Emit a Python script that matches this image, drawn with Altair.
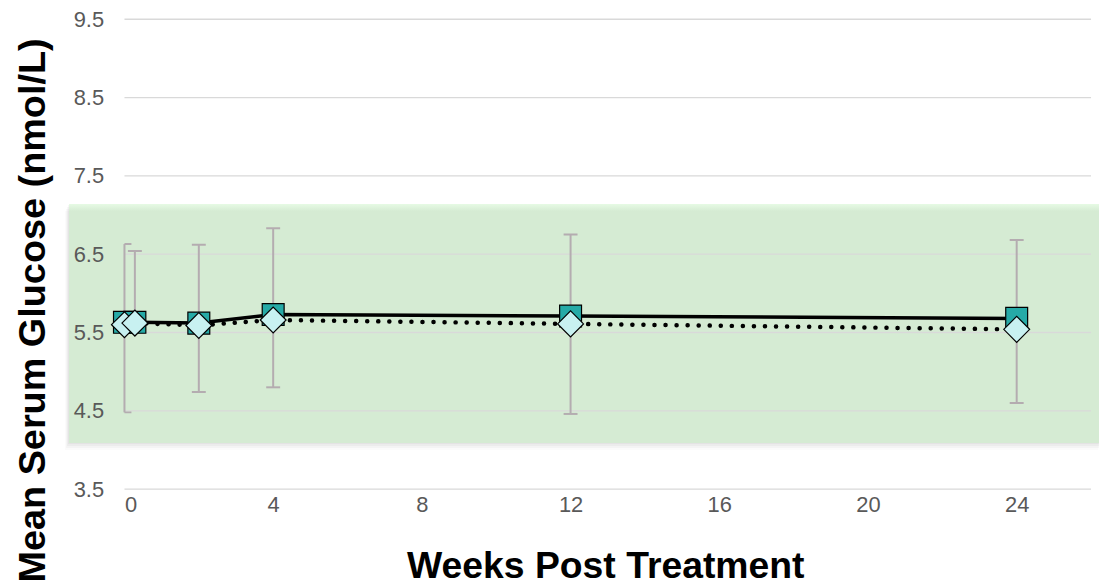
import altair as alt
import pandas as pd

# ---- data ----
weeks = [0, 0.28, 2, 4, 12, 24]
treated = [5.63, 5.63, 5.62, 5.73, 5.71, 5.68]      # teal squares, solid line
control = [5.60, 5.62, 5.59, 5.66, 5.61, 5.54]      # light diamonds, dotted line
err_low = [4.48, 5.62, 4.74, 4.80, 4.46, 4.60]
err_high = [6.63, 6.54, 6.62, 6.83, 6.75, 6.68]
y_ticks = [3.5, 4.5, 5.5, 6.5, 7.5, 8.5, 9.5]
x_ticks = [0, 4, 8, 12, 16, 20, 24]
normal_range = [4.09, 7.14]        # shaded reference band (nmol/L)
band_weeks = [-1.49, 26.3]

FONT = "Liberation Sans"
W, H = 971, 472

df = pd.DataFrame({"week": weeks, "treated": treated, "control": control,
                   "lo": err_low, "hi": err_high})
band_df = pd.DataFrame({"x0": [band_weeks[0]], "x1": [band_weeks[1]],
                        "y0": [normal_range[0]], "y1": [normal_range[1]]})
grid_df = pd.DataFrame({"v": y_ticks})

xs = alt.Scale(domain=[0, 26], nice=False, zero=False)
ys = alt.Scale(domain=[3.5, 9.5], nice=False, zero=False)

x_axis = alt.Axis(values=x_ticks, title="Weeks Post Treatment", grid=False, domain=False,
                  ticks=False, tickSize=0, labelPadding=5, labelFontSize=22,
                  labelColor="#595959", labelFont=FONT, titleFont=FONT, titleFontSize=37.5,
                  titleFontWeight="bold", titleColor="#000000", titleX=483, titleY=89,
                  titleAlign="center", titleBaseline="alphabetic", zindex=1)
y_axis = alt.Axis(values=y_ticks, format=".1f", title="Mean Serum Glucose (nmol/L)",
                  grid=False, domain=False, ticks=False, tickSize=0, labelPadding=21,
                  labelFontSize=22, labelColor="#595959", labelFont=FONT, titleFont=FONT,
                  titleFontSize=38, titleFontWeight="bold", titleColor="#000000",
                  titleAngle=270, titleX=-80, titleY=292, titleAlign="center",
                  titleBaseline="alphabetic", zindex=1)

# band shadow (soft, offset down-left)
shadows = []
for dx, dy, op in [(-1, 1, 0.07), (-2, 3, 0.06), (-3, 5, 0.05), (-4, 7, 0.03)]:
    shadows.append(
        alt.Chart(band_df).mark_rect(color="#7a7a7a", opacity=op, xOffset=dx, x2Offset=dx,
                                     yOffset=dy, y2Offset=dy)
        .encode(x=alt.X("x0:Q", scale=xs, axis=x_axis), x2="x1:Q",
                y=alt.Y("y0:Q", scale=ys, axis=y_axis), y2="y1:Q")
    )

band_fill = alt.LinearGradient(
    gradient="linear",
    stops=[alt.GradientStop(color="#e6fae4", offset=0),
           alt.GradientStop(color="#d5ebd3", offset=0.03),
           alt.GradientStop(color="#d5ebd3", offset=1)],
    x1=0, x2=0, y1=0, y2=1)

band = alt.Chart(band_df).mark_rect(fill=band_fill, opacity=1).encode(
    x=alt.X("x0:Q", scale=xs, axis=x_axis), x2="x1:Q",
    y=alt.Y("y0:Q", scale=ys, axis=y_axis), y2="y1:Q")

grid = alt.Chart(grid_df).mark_rule(color="#d9d9d9", strokeWidth=1.3).encode(
    y=alt.Y("v:Q", scale=ys, axis=y_axis))

base = alt.Chart(df)
X = alt.X("week:Q", scale=xs, axis=x_axis)

err = base.mark_rule(color="#b4acb0", strokeWidth=2).encode(
    x=X, y=alt.Y("lo:Q", scale=ys, axis=y_axis), y2="hi:Q")
cap_hi = base.mark_rule(color="#b4acb0", strokeWidth=2, xOffset=-7, x2Offset=7, clip=True).encode(
    x=X, x2="week:Q", y=alt.Y("hi:Q", scale=ys, axis=y_axis))
cap_lo = base.mark_rule(color="#b4acb0", strokeWidth=2, xOffset=-7, x2Offset=7, clip=True).encode(
    x=X, x2="week:Q", y=alt.Y("lo:Q", scale=ys, axis=y_axis))

line_t = base.mark_line(color="#000000", strokeWidth=3.5).encode(
    x=X, y=alt.Y("treated:Q", scale=ys, axis=y_axis))
line_c = base.mark_line(color="#000000", strokeWidth=4.5, strokeDash=[0.1, 11],
                        strokeCap="round").encode(
    x=X, y=alt.Y("control:Q", scale=ys, axis=y_axis))

pts_t = base.mark_point(shape="square", filled=True, color="#26aaa7", stroke="#000000",
                        strokeWidth=1.2, size=484, opacity=1).encode(
    x=X, y=alt.Y("treated:Q", scale=ys, axis=y_axis))
pts_c = base.mark_point(shape="diamond", filled=True, color="#c8f1f1", stroke="#000000",
                        strokeWidth=1.2, size=676, opacity=1).encode(
    x=X, y=alt.Y("control:Q", scale=ys, axis=y_axis))

chart = alt.layer(*shadows, band, grid, err, cap_hi, cap_lo, line_t, line_c, pts_t, pts_c).properties(
    width=W, height=H,
    autosize=alt.AutoSizeParams(type="none"),
    padding={"left": 117, "top": 10, "right": 8, "bottom": 95},
    background="#ffffff",
).configure_view(stroke=None)

chart.save("out.html", embed_options={"renderer": "svg", "actions": False})
